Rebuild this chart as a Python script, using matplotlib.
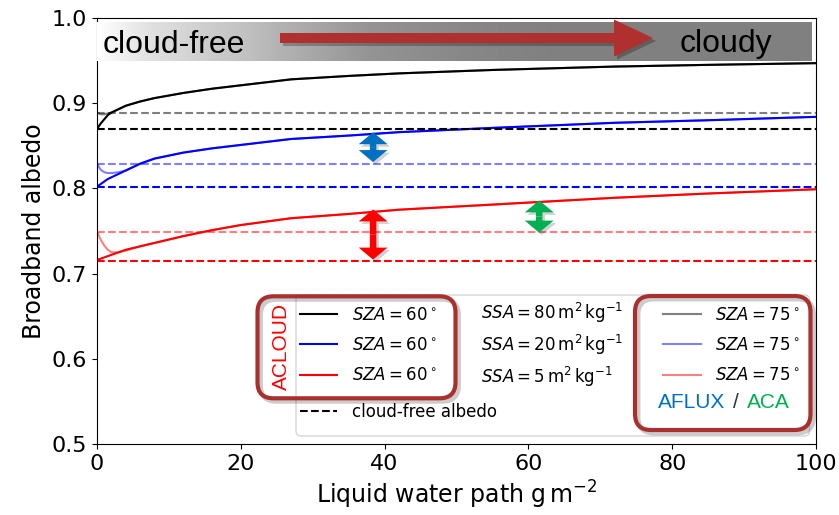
import numpy as np
import matplotlib.pyplot as plt
from matplotlib.patches import FancyBboxPatch, FancyArrow

# liquid water path (g m-2) and broadband albedo
lwp = [0, 0.5, 1, 1.5, 2, 3, 4, 6, 8, 12, 16, 20, 27, 35, 42, 55, 72, 85, 100]

alb_k60 = [0.870, 0.876, 0.881, 0.886, 0.889, 0.893, 0.897, 0.902, 0.906, 0.912, 0.917,
           0.921, 0.928, 0.932, 0.935, 0.939, 0.943, 0.945, 0.947]
alb_b60 = [0.802, 0.805, 0.808, 0.811, 0.813, 0.817, 0.821, 0.829, 0.835, 0.842, 0.847,
           0.851, 0.858, 0.862, 0.866, 0.871, 0.877, 0.880, 0.884]
alb_r60 = [0.716, 0.7175, 0.719, 0.7205, 0.722, 0.725, 0.728, 0.732, 0.736, 0.744, 0.751,
           0.757, 0.765, 0.770, 0.775, 0.781, 0.789, 0.794, 0.799]

alb_k75 = [0.889, 0.887, 0.887, 0.888, 0.889, 0.893, 0.897, 0.902, 0.906, 0.912, 0.917,
           0.921, 0.928, 0.932, 0.935, 0.939, 0.943, 0.945, 0.947]
alb_b75 = [0.829, 0.822, 0.819, 0.818, 0.818, 0.819, 0.821, 0.829, 0.835, 0.842, 0.847,
           0.851, 0.858, 0.862, 0.866, 0.871, 0.877, 0.880, 0.884]
alb_r75 = [0.749, 0.740, 0.733, 0.728, 0.725, 0.725, 0.727, 0.732, 0.736, 0.744, 0.751,
           0.757, 0.765, 0.770, 0.775, 0.781, 0.789, 0.794, 0.799]

# cloud-free (surface) albedo
cf_60 = [0.870, 0.802, 0.715]
cf_75 = [0.889, 0.829, 0.749]
colors = ['black', 'blue', 'red']

ssa_labels = [r'$SSA=80\,\mathrm{m^2\,kg^{-1}}$',
              r'$SSA=20\,\mathrm{m^2\,kg^{-1}}$',
              r'$SSA=5\,\mathrm{m^2\,kg^{-1}}$']

# difference arrows: (lwp, top, bottom, colour)
diff_arrows = [(38.4, 0.8659, 0.8310, '#0070C0'),
               (38.4, 0.7753, 0.7165, '#FF0000'),
               (61.5, 0.7859, 0.7482, '#00B050')]

W, H = 839, 515
fig = plt.figure(figsize=(W / 100, H / 100), dpi=100)
ax = fig.add_axes([97 / W, 1 - 444 / H, (816 - 97) / W, (444 - 18) / H])

l60 = []
for y, c in zip([alb_k60, alb_b60, alb_r60], colors):
    l60.append(ax.plot(lwp, y, color=c, lw=1.5)[0])
l75 = []
for y, c in zip([alb_k75, alb_b75, alb_r75], colors):
    l75.append(ax.plot(lwp, y, color=c, lw=1.5, alpha=0.5)[0])

dash = []
for v, c in zip(cf_60, colors):
    dash.append(ax.axhline(v, color=c, ls='--', lw=1.5))
for v, c in zip(cf_75, colors):
    ax.axhline(v, color=c, ls='--', lw=1.5, alpha=0.5)

# double arrows
for x, top, bot, c in diff_arrows:
    mid = (top + bot) / 2
    for d in (top - mid, bot - mid):
        ax.arrow(x + 0.35, mid - 0.003, 0, d, width=0.9, head_width=4.0, head_length=0.014,
                 length_includes_head=True, color='black', alpha=0.18, lw=0, zorder=4)
        ax.arrow(x, mid, 0, d, width=0.9, head_width=4.0, head_length=0.014,
                 length_includes_head=True, color=c, lw=0, zorder=5)

ax.set_xlim(0, 100)
ax.set_ylim(0.5, 1.0)
ax.set_xticks([0, 20, 40, 60, 80, 100])
ax.set_yticks([0.5, 0.6, 0.7, 0.8, 0.9, 1.0])
ax.tick_params(labelsize=16)
ax.set_xlabel(r'Liquid water path $\mathrm{g\,m^{-2}}$', fontsize=17)
ax.set_ylabel('Broadband albedo', fontsize=17)

# overlay in pixel units for the slide annotations
ov = fig.add_axes([0, 0, 1, 1], zorder=3)
ov.axis('off')

# banner gradient
px = np.arange(97, 812)
gray = np.interp(px, [97, 150, 250, 280, 370, 465, 560, 812],
                 [1.0, 0.88, 0.75, 0.70, 0.58, 0.53, 0.5, 0.5])
ov.imshow(gray[None, :], extent=(97, 812, 61, 22), cmap='gray', vmin=0, vmax=1,
          aspect='auto', interpolation='bilinear')
ov.set_xlim(0, W)
ov.set_ylim(H, 0)

ov.add_patch(FancyArrow(283, 41, 373, 0, width=10, head_width=37, head_length=39,
                        length_includes_head=True, color='black', alpha=0.25, lw=0))
ov.add_patch(FancyArrow(280, 38, 373, 0, width=10, head_width=37, head_length=39,
                        length_includes_head=True, color='#B0302F', lw=0))
ov.text(103, 53, 'cloud-free', fontsize=23, family='Liberation Sans', va='baseline')
ov.text(725.5, 52, 'cloudy', fontsize=23, family='Liberation Sans', va='baseline', ha='center')

# legend frame
ov.add_patch(FancyBboxPatch((296, 295), 513.5, 141, boxstyle='round,pad=0,rounding_size=5',
                            fc='white', ec='0.8', lw=1, alpha=0.8))

leg_kw = dict(loc='center left', frameon=False, borderpad=0, borderaxespad=0,
              fontsize=12, handlelength=2.25, handletextpad=0.87, labelspacing=0.75)
fig.legend(handles=l60, labels=[r'$SZA=60^\circ$'] * 3,
           bbox_to_anchor=(299.5 / W, 1 - 345 / H), **leg_kw)
fig.legend(handles=l75, labels=[r'$SZA=75^\circ$'] * 3,
           bbox_to_anchor=(663 / W, 1 - 345 / H), **leg_kw)
fig.legend(handles=[dash[0]], labels=['cloud-free albedo'],
           bbox_to_anchor=(299.5 / W, 1 - 412 / H), **leg_kw)
for i, lab in enumerate(ssa_labels):
    fig.text(481 / W, 1 - (313 + 32 * i) / H, lab, fontsize=12, va='center')

# red rounded boxes
for (x0, y0, w, h) in [(257.5, 296.3, 198, 102), (635, 296, 175.5, 134)]:
    ov.add_patch(FancyBboxPatch((x0 + 3, y0 + 3), w, h, boxstyle='round,pad=0,rounding_size=16',
                                fc='none', ec='black', lw=3.5, alpha=0.2))
    ov.add_patch(FancyBboxPatch((x0, y0), w, h, boxstyle='round,pad=0,rounding_size=16',
                                fc='none', ec='#A8302F', lw=3))

ov.text(281, 346, 'ACLOUD', rotation=90, color='red', fontsize=15,
        family='Liberation Sans', ha='center', va='center')
ov.text(725, 403, 'AFLUX', color='#0070C0', fontsize=15, family='Liberation Sans',
        ha='right', va='center')
ov.text(736, 403, '/', color='#333333', fontsize=15, family='Liberation Sans',
        ha='center', va='center')
ov.text(747, 403, 'ACA', color='#00B050', fontsize=15, family='Liberation Sans',
        ha='left', va='center')

fig.savefig('out.png', dpi=100)
